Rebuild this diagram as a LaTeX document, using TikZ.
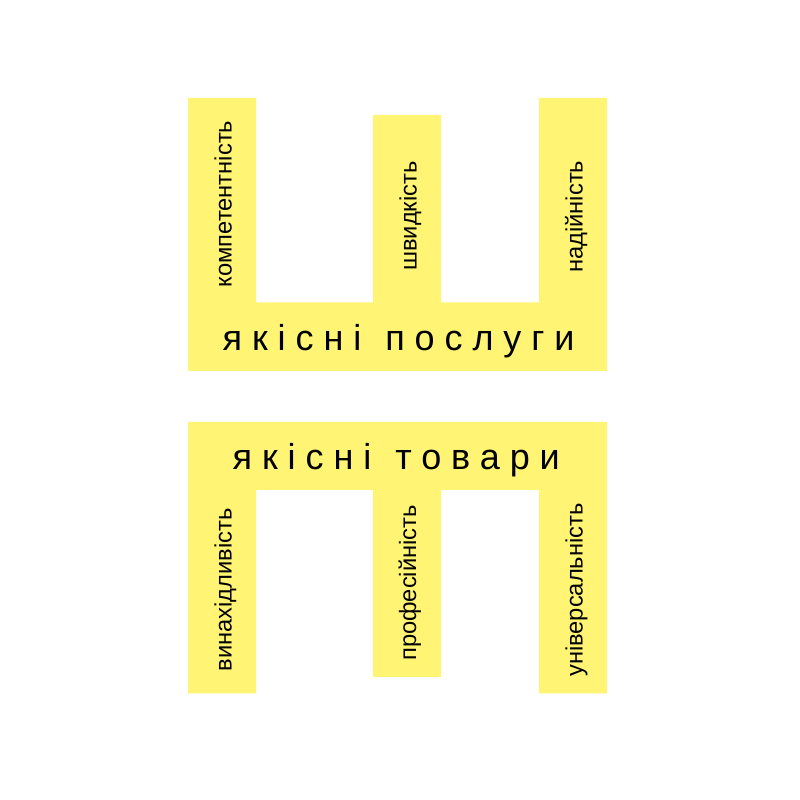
\documentclass[tikz,border=0pt]{standalone}
\usepackage{fontspec}
\setmainfont{Liberation Sans}
\newfontfamily\bigfont[LetterSpace=27.5]{Liberation Sans}
\definecolor{barfill}{RGB}{255,244,115}
\newcommand{\wgap}{\hspace{24pt}}
\begin{document}
\begin{tikzpicture}[x=1pt,y=1pt,
  shapefill/.style={fill=barfill,draw=none},
  vlabel/.style={rotate=90,anchor=base,inner sep=0pt,font=\fontsize{23.7}{28}\selectfont},
  hlabel/.style={anchor=base west,inner sep=0pt,font=\bigfont\fontsize{36}{44}\selectfont}]
\useasboundingbox (0,0) rectangle (800,800);
% top shape
\fill[shapefill] (188,702) -- (256,702) -- (256,497.5) -- (373,497.5) -- (373,685) -- (441,685)
  -- (441,497.5) -- (539,497.5) -- (539,702) -- (607,702) -- (607,429) -- (188,429) -- cycle;
% bottom shape
\fill[shapefill] (188,378) -- (607,378) -- (607,106.5) -- (539,106.5) -- (539,310) -- (441,310)
  -- (441,123) -- (373,123) -- (373,310) -- (256,310) -- (256,106.5) -- (188,106.5) -- cycle;
\node[vlabel] (komp) at (231.7,596) {компетентність};
\node[vlabel] (shv) at (416.7,584) {швидкість};
\node[vlabel] (nad) at (582.7,583.3) {надійність};
\node[hlabel] (posl) at (222.5,449.5) {якісні\wgap послуги};
\node[hlabel] (tov) at (232.5,330.3) {якісні\wgap товари};
\node[vlabel] (vyn) at (231.7,210) {винахідливість};
\node[vlabel] (prof) at (416,217) {професійність};
\node[vlabel] (univ) at (582.5,210) {універсальність};
\end{tikzpicture}
\end{document}
